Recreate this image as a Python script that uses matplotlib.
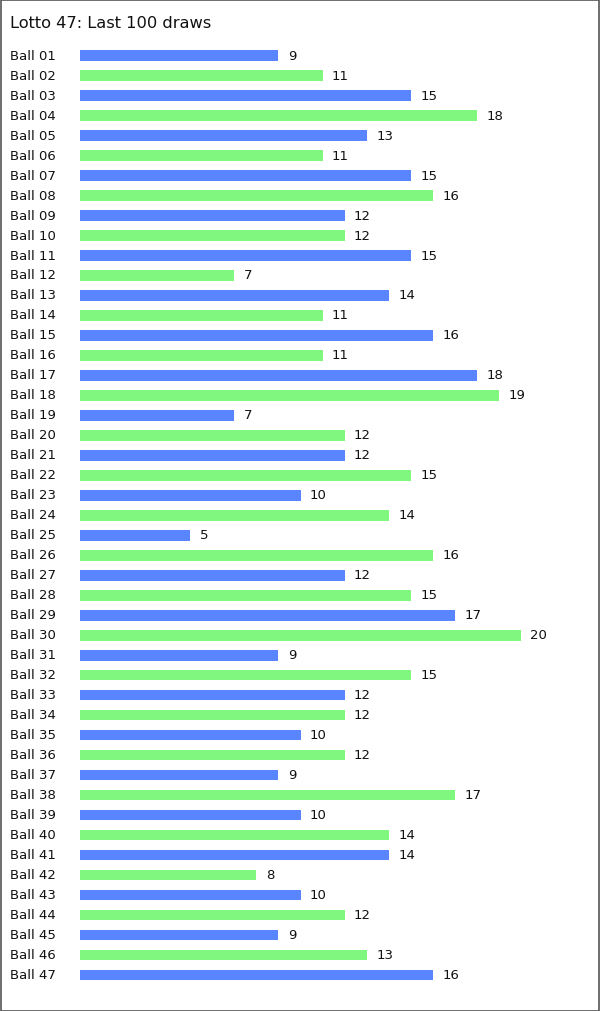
import matplotlib.pyplot as plt
from matplotlib.patches import Rectangle

balls = ["Ball %02d" % i for i in range(1, 48)]
counts = [9, 11, 15, 18, 13, 11, 15, 16, 12, 12, 15, 7, 14, 11, 16, 11, 18, 19, 7, 12,
          12, 15, 10, 14, 5, 16, 12, 15, 17, 20, 9, 15, 12, 12, 10, 12, 9, 17, 10, 14,
          14, 8, 10, 12, 9, 13, 16]
colors = ["#5985FF", "#80F880"]

W, H = 600, 1012
fig = plt.figure(figsize=(W / 100, H / 100), dpi=100)
fig.patches.append(Rectangle((0.5 / W, 0.5 / H), (W - 1.5) / W, (H - 1.5) / H,
                             transform=fig.transFigure, fill=False,
                             edgecolor="#555555", linewidth=1.2))

# plot area: x 80..521 px, rows centred 55..975 px
ax = fig.add_axes([80 / W, 1 - 986 / H, 441 / W, 940 / H])
ax.set_xlim(0, 20)
ax.set_ylim(len(balls) + 0.5, 0.5)
ax.axis("off")

ypos = list(range(1, len(balls) + 1))
ax.barh(ypos, counts, height=0.55,
        color=[colors[i % 2] for i in range(len(balls))])

for y, name, c in zip(ypos, balls, counts):
    ax.annotate(str(c), (c, y), xytext=(6.8, 0), textcoords="offset points",
                ha="left", va="center", fontsize=9.5, color="#111111")
    ax.text(-70 / 441 * 20, y, name, ha="left", va="center", fontsize=9.5,
            color="#111111")

fig.text(10 / W, 1 - 24 / H, "Lotto 47: Last 100 draws", ha="left", va="center",
         fontsize=11.7, color="#111111")

fig.savefig("out.png", dpi=100)
